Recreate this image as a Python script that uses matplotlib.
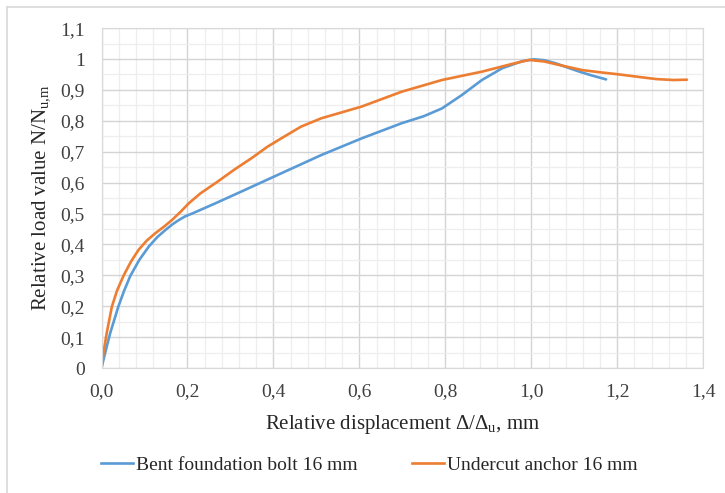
import numpy as np
import matplotlib
matplotlib.use("Agg")
import matplotlib.pyplot as plt
from matplotlib.lines import Line2D
from matplotlib.ticker import MultipleLocator, FuncFormatter

# Bent foundation bolt 16 mm
bolt_x = [0.0, 0.006, 0.020, 0.039, 0.052, 0.067, 0.088, 0.110, 0.130, 0.149,
          0.165, 0.180, 0.195, 0.211, 0.265, 0.330, 0.418, 0.511, 0.605, 0.698,
          0.750, 0.792, 0.838, 0.885, 0.932, 0.979, 1.006, 1.030, 1.057, 1.085,
          1.112, 1.140, 1.174]
bolt_y = [0.0, 0.035, 0.112, 0.198, 0.248, 0.298, 0.350, 0.393, 0.424, 0.447,
          0.465, 0.479, 0.491, 0.500, 0.533, 0.574, 0.630, 0.689, 0.743, 0.792,
          0.815, 0.840, 0.883, 0.932, 0.970, 0.993, 0.999, 0.996, 0.986, 0.972,
          0.959, 0.947, 0.934]

# Undercut anchor 16 mm
anchor_x = [0.0, 0.004, 0.012, 0.024, 0.036, 0.051, 0.068, 0.086, 0.105, 0.125,
            0.145, 0.164, 0.185, 0.203, 0.230, 0.270, 0.308, 0.350, 0.386,
            0.418, 0.464, 0.511, 0.605, 0.698, 0.792, 0.885, 0.955, 0.995,
            1.030, 1.070, 1.119, 1.160, 1.205, 1.250, 1.291, 1.330, 1.362]
anchor_y = [0.0, 0.045, 0.112, 0.198, 0.250, 0.298, 0.343, 0.382, 0.412, 0.436,
            0.457, 0.479, 0.507, 0.533, 0.565, 0.603, 0.641, 0.680, 0.716,
            0.743, 0.781, 0.808, 0.846, 0.894, 0.932, 0.959, 0.984, 0.997,
            0.992, 0.979, 0.964, 0.957, 0.950, 0.942, 0.935, 0.932, 0.933]

labels = ["Bent foundation bolt 16 mm", "Undercut anchor 16 mm"]
colors = ["#5B9BD5", "#ED7D31"]

plt.rcParams["font.family"] = ["Liberation Serif", "DejaVu Serif"]
plt.rcParams["mathtext.fontset"] = "custom"
plt.rcParams["mathtext.rm"] = "Liberation Serif"
plt.rcParams["mathtext.it"] = "Liberation Serif"

fig = plt.figure(figsize=(7.25, 4.93), dpi=100)
ax = fig.add_axes([0.140, 0.2535, 0.830, 0.6895])

ax.plot(bolt_x, bolt_y, color=colors[0], lw=1.9, solid_capstyle="round",
        solid_joinstyle="round")
ax.plot(anchor_x, anchor_y, color=colors[1], lw=1.9, solid_capstyle="round",
        solid_joinstyle="round")

ax.set_xlim(0, 1.4)
ax.set_ylim(0, 1.1)
ax.xaxis.set_major_locator(MultipleLocator(0.2))
ax.xaxis.set_minor_locator(MultipleLocator(0.04))
ax.yaxis.set_major_locator(MultipleLocator(0.1))
ax.yaxis.set_minor_locator(MultipleLocator(0.05))
ax.xaxis.set_major_formatter(FuncFormatter(lambda v, p: f"{v:.1f}".replace(".", ",")))
ax.yaxis.set_major_formatter(FuncFormatter(lambda v, p: f"{v:g}".replace(".", ",") if abs(v) > 1e-9 else "0"))

ax.grid(which="major", color="#d4d4d4", lw=1.0)
ax.grid(which="minor", color="#eeeeee", lw=0.9)
ax.set_axisbelow(True)
for s in ax.spines.values():
    s.set_color("#d9d9d9")
ax.tick_params(which="both", length=0, labelsize=14, colors="#404040")
ax.tick_params(axis="x", pad=11)
ax.tick_params(axis="y", pad=12)

ax.set_xlabel("Relative displacement Δ/Δ$_\\mathregular{u}$, mm", fontsize=15,
              color="#262626", labelpad=9)
ax.set_ylabel("Relative load value N/N$_\\mathregular{u{,}m}$", fontsize=15,
              color="#262626", labelpad=6)

handles = [Line2D([], [], color=c, lw=1.9) for c in colors]
fig.legend(handles, labels, loc="center", bbox_to_anchor=(0.509, 0.056), ncol=2,
           frameon=False, fontsize=14, handlelength=1.65, handletextpad=0.15,
           columnspacing=2.8, labelcolor="#262626")

# chart border (top and left visible)
fig.add_artist(Line2D([7 / 725, 7 / 725], [0, 1 - 7 / 493], color="#d9d9d9", lw=1.2))
fig.add_artist(Line2D([7 / 725, 1], [1 - 7 / 493, 1 - 7 / 493], color="#d9d9d9", lw=1.2))

fig.savefig("out.png", dpi=100, facecolor="white")
